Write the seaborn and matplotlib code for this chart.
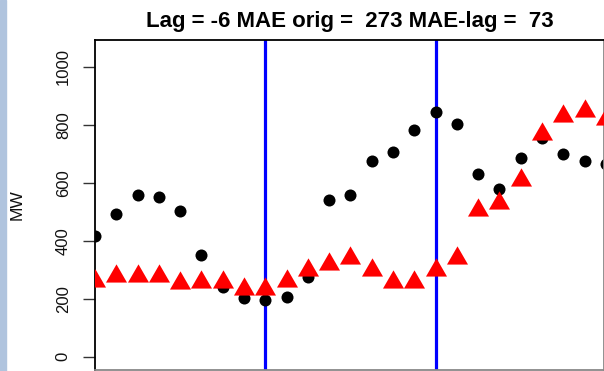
import numpy as np
import pandas as pd
import matplotlib
matplotlib.use("Agg")
import matplotlib.pyplot as plt
from matplotlib.markers import MarkerStyle
from matplotlib.patches import Rectangle
import seaborn as sns

# Observed load (black dots) and lagged series (red triangles), MW
observed = [415, 493, 559, 551, 501, 352, 242, 204, 197, 206, 275, 541, 557,
            676, 707, 780, 844, 803, 631, 578, 684, 754, 699, 674, 666]
lagged = [262, 280, 280, 280, 255, 258, 258, 235, 233, 262, 300, 320, 340,
          300, 259, 259, 300, 342, 506, 530, 609, 769, 831, 846, 820]
steps = list(range(len(observed)))
vlines_at = [8, 16]
yticks = [0, 200, 400, 600, 800, 1000]
title = "Lag = -6 MAE orig =  273 MAE-lag =  73"

df = pd.DataFrame({"step": steps, "observed": observed, "lagged": lagged})

sns.set_theme(style="white")
plt.rcParams["font.family"] = ["Liberation Sans", "DejaVu Sans"]

fig = plt.figure(figsize=(6.04, 3.71), dpi=100)
fig.patches.append(Rectangle((0, 0), 6 / 604, 1, transform=fig.transFigure,
                             color="#b0c4de", zorder=0))
ax = fig.add_axes([95 / 604, 1.5 / 371, 508.7 / 604, 329.5 / 371])

# R style triangle (pch 17) centred on its centroid
tri = MarkerStyle([(0, 1), (-0.866, -0.5), (0.866, -0.5), (0, 1)])

for x in vlines_at:
    ax.axvline(x, color="#0000ff", lw=2.3, zorder=1)

sns.scatterplot(data=df, x="step", y="observed", ax=ax, color="black",
                s=75, marker="o", linewidth=0, zorder=2)
sns.scatterplot(data=df, x="step", y="lagged", ax=ax, color="#ff0000",
                s=306, marker=tri, linewidth=0, zorder=3)

ax.set_xlim(0, 23.9)
ax.set_ylim(-44, 1092)
ax.set_xticks([])
ax.set_yticks(yticks)
ax.set_yticklabels([str(v) for v in yticks], rotation=90, va="center",
                   fontsize=12, color="#111111")
ax.tick_params(axis="y", direction="out", length=8.4, width=1,
               color="#333333", pad=9, left=True)
ax.set_xlabel("")
ax.set_ylabel("MW", fontsize=12.5, color="#111111")
ax.yaxis.set_label_coords(-0.1524, 0.5)
ax.yaxis.label.set_va("center")

for side in ["left", "top"]:
    ax.spines[side].set_color("black")
    ax.spines[side].set_linewidth(1.3)
for side in ["right", "bottom"]:
    ax.spines[side].set_color("#888888")
    ax.spines[side].set_linewidth(1.3)

ax.set_title(title, fontsize=16, fontweight="bold", pad=9.4, color="black")

fig.savefig("out.png", dpi=100)
